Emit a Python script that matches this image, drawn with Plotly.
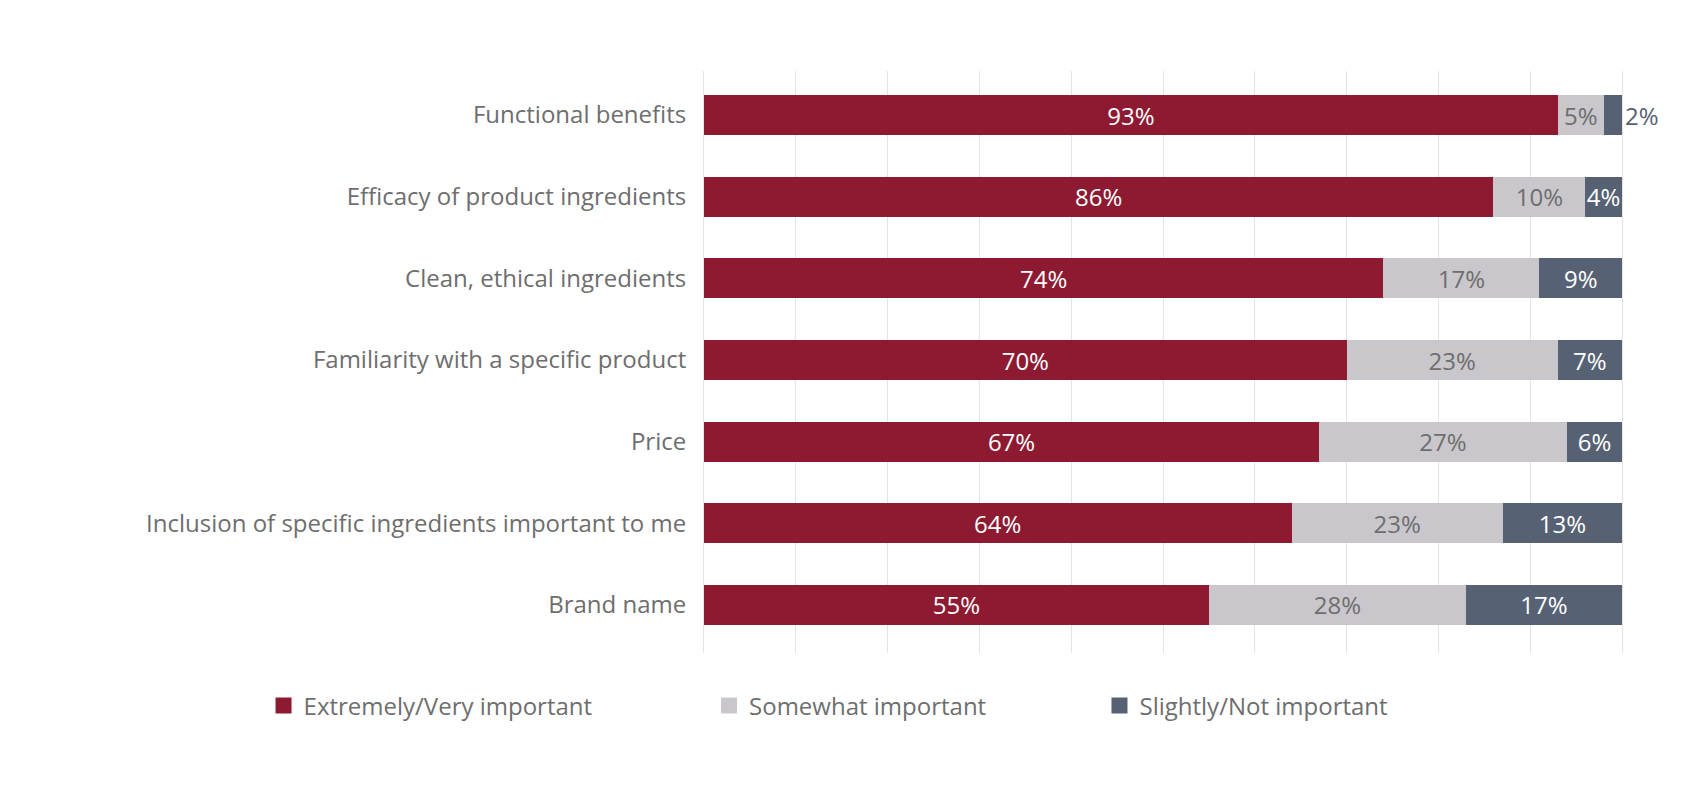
import plotly.graph_objects as go

# Datos (orden de arriba hacia abajo)
factores = [
    'Functional benefits',
    'Efficacy of product ingredients',
    'Clean, ethical ingredients',
    'Familiarity with a specific product',
    'Price',
    'Inclusion of specific ingredients important to me',
    'Brand name',
]
muy_importante = [93, 86, 74, 70, 67, 64, 55]
algo_importante = [5, 10, 17, 23, 27, 23, 28]
poco_importante = [2, 4, 9, 7, 6, 13, 17]

series = ['Extremely/Very important', 'Somewhat important', 'Slightly/Not important']
colores = ['#8e1a32', '#c9c7cb', '#566273']

FUENTE = 'Open Sans, sans-serif'
GRIS_TEXTO = '#6e6e6e'
GRIS_REJILLA = '#e4e4e4'

fig = go.Figure()

valores = [muy_importante, algo_importante, poco_importante]
color_texto = ['white', GRIS_TEXTO, 'white']

for i, (nombre, vals) in enumerate(zip(series, valores)):
    # el segmento pequeño (2%) va fuera de la barra
    if i == 2:
        pos = ['outside' if v < 3 else 'inside' for v in vals]
    else:
        pos = 'inside'
    fig.add_trace(go.Bar(
        y=factores, x=vals, orientation='h', name=nombre,
        marker=dict(color=colores[i], line=dict(width=0)),
        text=[f'{v}%' for v in vals],
        textposition=pos,
        textangle=0,
        insidetextanchor='middle',
        insidetextfont=dict(color=color_texto[i], size=24, family=FUENTE),
        outsidetextfont=dict(color=colores[2], size=24, family=FUENTE),
        constraintext='none',
        cliponaxis=False,
        showlegend=False,
        legendgroup=nombre,
        hovertemplate='%{y}: %{x}%<extra></extra>',
    ))

# Leyendas separadas, con cuadros más grandes
legend_x = [-0.4798, 0.0055, 0.4308]
for i, nombre in enumerate(series):
    key = 'legend' if i == 0 else f'legend{i + 1}'
    fig.add_trace(go.Scatter(
        x=[None], y=[None], mode='markers', name=nombre,
        marker=dict(symbol='square', size=16, color=colores[i]),
        legendgroup=nombre, legend=key, showlegend=True,
    ))

leg_base = dict(
    orientation='h', yanchor='middle', xanchor='left', y=-0.091,
    font=dict(family=FUENTE, size=24, color=GRIS_TEXTO),
    bgcolor='rgba(0,0,0,0)', borderwidth=0,
)

fig.update_layout(
    width=1700, height=800,
    paper_bgcolor='white', plot_bgcolor='white',
    font=dict(family=FUENTE, color=GRIS_TEXTO, size=24),
    margin=dict(l=696, r=86, t=63, b=155, autoexpand=False),
    barmode='stack', bargap=0.51,
    xaxis=dict(range=[0, 100], dtick=10, showgrid=True, gridcolor=GRIS_REJILLA,
               gridwidth=1, zeroline=False, showticklabels=False, showline=False),
    yaxis=dict(categoryorder='array', categoryarray=factores,
               range=[6.588, -0.539], showgrid=False, zeroline=False,
               showline=True, mirror=True, linecolor=GRIS_REJILLA, linewidth=1,
               ticks='', ticklabelstandoff=12,
               tickfont=dict(family=FUENTE, size=24, color=GRIS_TEXTO)),
    legend=dict(leg_base, x=legend_x[0]),
    legend2=dict(leg_base, x=legend_x[1]),
    legend3=dict(leg_base, x=legend_x[2]),
    uniformtext=dict(mode=False),
)

fig.write_html('out.html')
